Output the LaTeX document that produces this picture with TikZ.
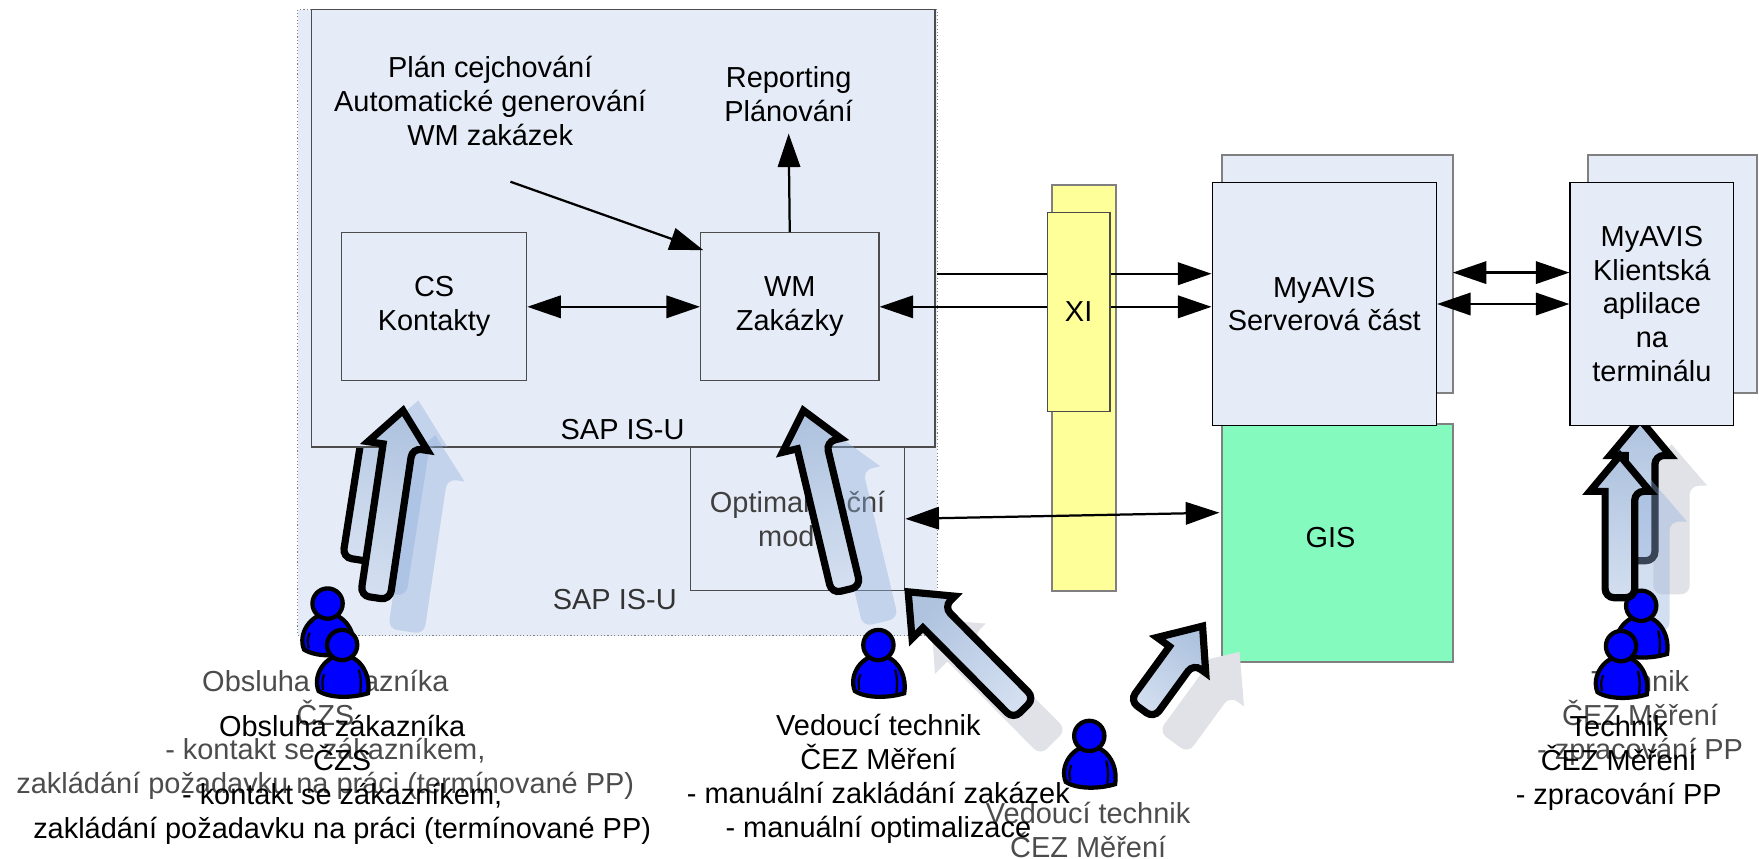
\documentclass[tikz,border=0pt]{standalone}
\usepackage{fontspec}
\setmainfont{Liberation Sans}
\usetikzlibrary{positioning,arrows.meta}
\definecolor{boxfill}{HTML}{E6ECF7}
\definecolor{xifill}{HTML}{FFFF99}
\definecolor{gisfill}{HTML}{84FABE}
\definecolor{manblue}{HTML}{0000FF}
\definecolor{tipdark}{HTML}{AFC3DF}
\definecolor{taillight}{HTML}{D3DFF0}
\definecolor{shadeblue}{HTML}{8FAEDB}
\definecolor{shadegray}{HTML}{E1E2E7}
\tikzset{
    frontbox/.style={draw=black,line width=0.5pt,fill=boxfill,align=center,inner sep=0pt,anchor=north west},
    innerbox/.style={frontbox,draw=black!70},
    backbox/.style={frontbox,draw=black!50,line width=0.9pt},
    mylabel/.style={align=center,inner sep=2pt},
    ghost/.style={mylabel,text=black!70},
    conn/.style={line width=1pt,>={Triangle[length=15pt,width=10pt]}},
    bigfront/.style={draw=black,line width=3.2pt,shading=axis,bottom color=taillight,top color=tipdark,shading angle=\bigshade},
    bigblue/.style={fill=shadeblue,fill opacity=0.4},
    biggray/.style={fill=shadegray},
    pics/person/.style={code={
        \path[draw=black,line width=1.9pt,fill=manblue] (-21,-5) .. controls (-27,-20) and (-14,-37) .. (0,-37)
            .. controls (14,-37) and (26,-22) .. (23,-3) .. controls (10,1) and (-10,2) .. (-21,-5) -- cycle;
        \draw[line width=1pt] (15,-24) .. controls (17,-15) .. (16,-1);
        \draw[line width=1pt] (-16,-20) .. controls (-18,-14) .. (-17,-6);
        \path[draw=black,line width=1.9pt,fill=manblue] (0,-46) circle (13.5);
    }}
}
\newcommand{\bigarrow}[5]{%
    \path (#1); \pgfgetlastxy{\bigax}{\bigay};
    \path (#2); \pgfgetlastxy{\bigbx}{\bigby};
    \pgfmathsetmacro\bigang{atan2(\bigby-\bigay,\bigbx-\bigax)}
    \pgfmathsetmacro\biglen{veclen(\bigbx-\bigax,\bigby-\bigay)}
    \pgfmathsetmacro\bigshade{\bigang-90}
    \pgfmathsetmacro\bigbase{\biglen-18.5}
    \pgfmathsetmacro\bigtip{\biglen-2.5+1.67*#5}
    \pgfmathsetmacro\bigtail{1.6-#5}
    \pgfmathsetmacro\bigw{6.6+#5}
    \pgfmathsetmacro\bigh{13.4+1.7*#5}
    \begin{scope}[#4,shift={(\bigax,\bigay)},rotate=\bigang]
        \path[#3] (\bigbase pt,\bigw pt) [rounded corners=4pt] -- (\bigtail pt,\bigw pt) -- (\bigtail pt,-\bigw pt)
            -- (\bigbase pt,-\bigw pt) [sharp corners] -- (\bigbase pt,-\bigh pt) -- (\bigtip pt,0pt)
            -- (\bigbase pt,\bigh pt) -- cycle;
    \end{scope}
}
\begin{document}
\begin{tikzpicture}[x=0.5pt,y=-0.5pt,font=\fontsize{12.9}{15.1}\selectfont]
    \useasboundingbox (0,0) rectangle (1568,765);
    \coordinate (backtail) at (318,502);
    \coordinate (backtip) at (345,330);
    \coordinate (cstail) at (334,536);
    \coordinate (cstip) at (360,361);
    \coordinate (wmtail) at (755,529);
    \coordinate (wmtip) at (715,361);
    \coordinate (opttail) at (915,634);
    \coordinate (opttip) at (806,524);
    \coordinate (gistail) at (1016,635);
    \coordinate (gistip) at (1075,554);
    \coordinate (termtail) at (1462,503);
    \coordinate (termtip) at (1462,369);
    \coordinate (techtail) at (1444,536);
    \coordinate (techtip) at (1444,401);

    \node[frontbox,draw=black!50,densely dotted,minimum width=285pt,minimum height=279pt] (sapouter) at (265,8) {};
    \node[innerbox,minimum width=95.5pt,minimum height=64pt] (optim) at (615,398) {\textcolor{black!75}{Optimalizační}\\\textcolor{black!75}{modul}};
    \node[mylabel,text=black!80] (sapoutlabel) at (548,534) {SAP IS-U};
    \bigarrow{backtail}{backtip}{bigfront}{}{0}
    \node[innerbox,minimum width=278pt,minimum height=195pt] (sapinner) at (277,8) {};
    \node[mylabel] (saplabel) at (555,383) {SAP IS-U};
    \node[mylabel] (plan) at (437,90) {Plán cejchování\\Automatické generování\\WM zakázek};
    \node[mylabel] (reporting) at (703,84) {Reporting\\Plánování};
    \node[innerbox,minimum width=82.5pt,minimum height=66pt] (cs) at (304,207) {CS\\Kontakty};
    \node[innerbox,minimum width=79.5pt,minimum height=66pt] (wm) at (624,207) {WM\\Zakázky};

    \node[backbox,fill=xifill,minimum width=28.5pt,minimum height=181pt] (xiback) at (937,164) {};
    \node[innerbox,fill=xifill,minimum width=28pt,minimum height=88.5pt] (xi) at (933,189) {XI};
    \node[backbox,minimum width=103pt,minimum height=106pt] (avisback) at (1088,137) {};
    \node[backbox,fill=gisfill,minimum width=103pt,minimum height=106pt] (gis) at (1088,377) {};
    \node[mylabel] (gislabel) at (1186,479) {GIS};
    \node[frontbox,minimum width=100pt,minimum height=108.5pt] (avis) at (1080,162) {MyAVIS\\Serverová část};
    \node[backbox,minimum width=75pt,minimum height=106pt] (termback) at (1415,137) {};
    \bigarrow{termtail}{termtip}{biggray}{xshift=14pt,yshift=-13.5pt}{1.5}
    \bigarrow{termtail}{termtip}{bigfront}{}{0}
    \node[frontbox,minimum width=73pt,minimum height=108.5pt] (term) at (1399,162) {MyAVIS\\Klientská\\aplilace\\na\\terminálu};

    \coordinate (planstart) at (455,162);
    \coordinate (wmin) at (627,223);
    \coordinate (upper) at (835,244);
    \coordinate (upperterm) at (1295,243);
    \coordinate (gisin) at (1087,457);
    \draw[conn,->] (planstart) -- (wmin);
    \draw[conn,->] (wm.north) -- ([yshift=-3pt]reporting.south);
    \draw[conn,<->] (cs) -- (wm);
    \draw[conn,<-] (wm.east) -- (wm.east -| xi.west);
    \draw[conn,->] (xi.east |- wm.east) -- (avis.west |- wm.east);
    \draw[conn] (upper) -- (upper -| xi.west);
    \draw[conn,->] (xi.east |- upper) -- (upper -| avis.west);
    \draw[conn,<->] (upperterm) -- (upperterm -| term.west);
    \draw[conn,<->] (avis.east) -- (term.west);
    \draw[conn,<->] (optim.east) -- (gisin);

    \node[ghost] (custghost) at (290,655) {Obsluha zákazníka\\ČZS\\- kontakt se zákazníkem,\\zakládání požadavku na práci (termínované PP)};
    \node[ghost] (leadghost) at (970,740) {Vedoucí technik\\ČEZ Měření};
    \node[ghost] (techghost) at (1462,640) {Technik\\ČEZ Měření\\- zpracování PP};

    \bigarrow{backtail}{backtip}{bigblue}{xshift=14pt,yshift=-13.5pt}{1.5}
    \bigarrow{cstail}{cstip}{bigblue}{xshift=14pt,yshift=-13.5pt}{1.5}
    \bigarrow{wmtail}{wmtip}{bigblue}{xshift=15pt,yshift=-13pt}{1.5}
    \bigarrow{opttail}{opttip}{biggray}{xshift=12pt,yshift=-14pt}{1.5}
    \bigarrow{gistail}{gistip}{biggray}{xshift=15pt,yshift=-13.5pt}{1.5}
    \bigarrow{techtail}{techtip}{bigblue}{xshift=14pt,yshift=-13.5pt}{1.5}

    \pic at (292,584) {person};
    \pic at (305,621) {person};
    \pic at (783,621) {person};
    \pic at (971,702) {person};
    \pic at (1463,586) {person};
    \pic at (1445,622) {person};

    \bigarrow{cstail}{cstip}{bigfront}{}{0}
    \bigarrow{wmtail}{wmtip}{bigfront}{}{0}
    \bigarrow{opttail}{opttip}{bigfront}{}{0}
    \bigarrow{gistail}{gistip}{bigfront}{}{0}
    \bigarrow{techtail}{techtip}{bigfront}{}{0}

    \node[mylabel] (custtext) at (305,695) {Obsluha zákazníka\\ČZS\\- kontakt se zákazníkem,\\zakládání požadavku na práci (termínované PP)};
    \node[mylabel] (leadtext) at (783,694) {Vedoucí technik\\ČEZ Měření\\- manuální zakládání zakázek\\- manuální optimalizace};
    \node[mylabel] (techtext) at (1443,680) {Technik\\ČEZ Měření\\- zpracování PP};
\end{tikzpicture}
\end{document}
